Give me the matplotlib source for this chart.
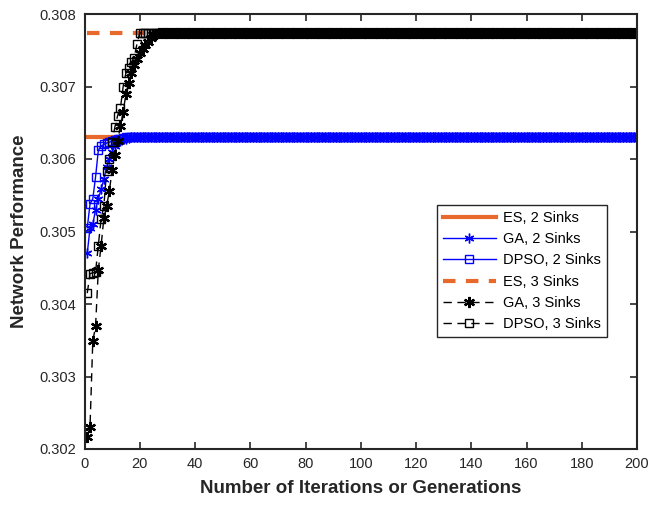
"""
Convergence of ES, GA and DPSO network performance for 2 and 3 sinks.
"""

import matplotlib
matplotlib.use('Agg')
import matplotlib.pyplot as plt
import numpy as np

plt.rcParams['font.family'] = ['Liberation Sans', 'DejaVu Sans']

n_iter = 200
iterations = np.arange(1, n_iter + 1)

# * Exhaustive search optimum (flat reference)
es_2 = 0.30630
es_3 = 0.30774

# * First iterations read per step, then the plateau value
ga_2_head = [0.30470, 0.30505, 0.30510, 0.30530, 0.30545, 0.30558, 0.30572,
             0.30589, 0.30600, 0.30610, 0.30618, 0.30623, 0.30625, 0.30627,
             0.30628, 0.30629]
dpso_2_head = [0.30505, 0.30538, 0.30545, 0.30575, 0.30612, 0.30618, 0.30620,
               0.30622, 0.30623, 0.30625, 0.30626, 0.30627, 0.30628, 0.30629]
ga_3_head = [0.30217, 0.30231, 0.30349, 0.30369, 0.30447, 0.30480, 0.30518,
             0.30535, 0.30556, 0.30585, 0.30606, 0.30625, 0.30645, 0.30665,
             0.30690, 0.30705, 0.30718, 0.30730, 0.30738, 0.30746, 0.30752,
             0.30757, 0.30762, 0.30767, 0.30771, 0.30773]
dpso_3_head = [0.30415, 0.30442, 0.30443, 0.30444, 0.30480, 0.30517, 0.30535,
               0.30583, 0.30600, 0.30624, 0.30644, 0.30660, 0.30670, 0.30700,
               0.30719, 0.30725, 0.30734, 0.30740, 0.30759]

ga_2 = ga_2_head + [es_2] * (n_iter - len(ga_2_head))
dpso_2 = dpso_2_head + [es_2] * (n_iter - len(dpso_2_head))
ga_3 = ga_3_head + [es_3] * (n_iter - len(ga_3_head))
dpso_3 = dpso_3_head + [es_3] * (n_iter - len(dpso_3_head))

orange = '#E8692C'
star = (6, 2, 0)

fig = plt.figure(figsize=(6.51, 5.07), dpi=100)
ax = fig.add_axes([84.5 / 651, 1 - 449 / 507, 552.5 / 651, 435 / 507])

ax.plot(iterations, [es_2] * n_iter, '-', color=orange, lw=3, label='ES, 2 Sinks')
ax.plot(iterations, ga_2, '-', color='#0000FF', lw=1, marker=star, ms=7,
        mew=1, label='GA, 2 Sinks')
ax.plot(iterations, dpso_2, '-', color='#0000FF', lw=1, marker='s', ms=6,
        mfc='none', mew=1, label='DPSO, 2 Sinks')
ax.plot(iterations, [es_3] * n_iter, '--', color=orange, lw=3,
        dashes=(3, 2.5), label='ES, 3 Sinks')
ax.plot(iterations, ga_3, '--', color='black', lw=1, marker=star, ms=8,
        mew=1.6, dashes=(6, 4), label='GA, 3 Sinks')
ax.plot(iterations, dpso_3, '--', color='black', lw=1, marker='s', ms=6,
        mfc='none', mew=1, dashes=(6, 4), label='DPSO, 3 Sinks')

ax.set_xlim(0, 200)
ax.set_ylim(0.302, 0.308)
ax.set_xticks(np.arange(0, 201, 20))
ax.set_yticks(np.arange(0.302, 0.30801, 0.001))
ax.set_yticklabels(['0.302', '0.303', '0.304', '0.305', '0.306', '0.307', '0.308'])

ax.tick_params(direction='in', length=5, width=1.2, top=True, right=True,
               labelsize=10.5, colors='#262626', pad=6)
for spine in ax.spines.values():
    spine.set_linewidth(1.5)
    spine.set_color('#262626')

ax.set_xlabel('Number of Iterations or Generations', fontsize=13.5,
              fontweight='bold', color='#262626', labelpad=6)
ax.set_ylabel('Network Performance', fontsize=13.5, fontweight='bold',
              color='#262626', labelpad=8)

leg = ax.legend(loc='center right', bbox_to_anchor=(0.945, 0.409), fontsize=10.5,
                fancybox=False, framealpha=1, edgecolor='#262626',
                handlelength=3.6, borderpad=0.4, labelspacing=0.5,
                handletextpad=0.5, borderaxespad=0)
leg.get_frame().set_linewidth(1)

plt.savefig('out.png', dpi=100)
